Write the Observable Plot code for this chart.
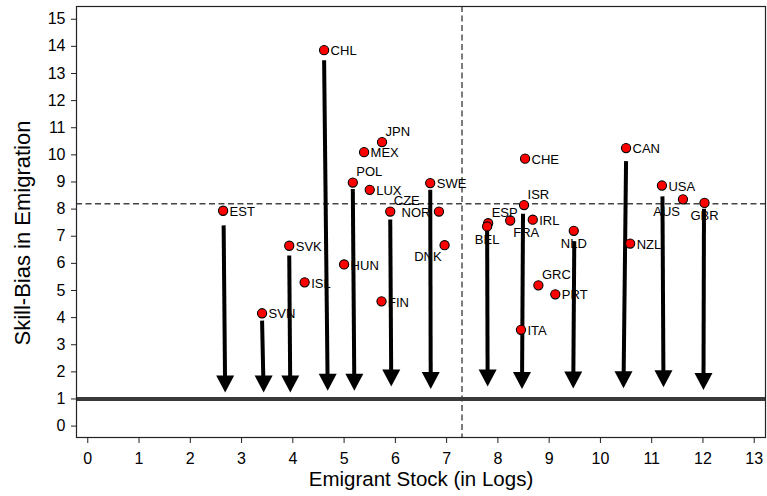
<!DOCTYPE html>
<html><head><meta charset="utf-8">
<script src="https://cdn.jsdelivr.net/npm/d3@7"></script>
<script src="https://cdn.jsdelivr.net/npm/@observablehq/plot@0.6"></script>
<style>body{margin:0;background:#fff} #chart svg{display:block}</style>
</head><body><div id="chart"></div>
<script>
// ---- data ----
const countries = ["CHL","JPN","MEX","POL","LUX","SWE","EST","CZE","NOR","SVK","SVN","ISL","HUN","FIN","DNK","CHE","CAN","ISR","USA","AUS","GBR","FRA","IRL","ESP","BEL","NLD","NZL","GRC","PRT","ITA"];
const emigrantStock = [4.61,5.74,5.39,5.17,5.50,6.68,2.64,5.90,6.85,3.93,3.40,4.23,5.00,5.73,6.96,8.53,10.50,8.51,11.20,11.61,12.03,8.24,8.68,7.81,7.79,9.48,10.58,8.79,9.12,8.45];
const skillBias = [13.86,10.47,10.10,8.98,8.71,8.96,7.94,7.91,7.91,6.65,4.16,5.30,5.96,4.60,6.67,9.86,10.25,8.15,8.87,8.36,8.23,7.58,7.61,7.48,7.36,7.20,6.73,5.19,4.86,3.55];

const arrowCountries = ["EST","SVN","SVK","CHL","POL","CZE","SWE","BEL","ISR","NLD","CAN","USA","GBR"];
const arrowFromX = [2.65,3.40,3.93,4.61,5.17,5.90,6.68,7.79,8.49,9.49,10.50,11.21,12.02];
const arrowFromY = [7.40,3.89,6.29,13.49,8.74,7.62,8.71,7.21,7.83,6.82,9.77,8.47,8.01];
const arrowToX = [2.68,3.43,3.95,4.68,5.20,5.92,6.69,7.80,8.47,9.47,10.45,11.23,12.01];
const arrowToY = [1.24,1.24,1.24,1.30,1.30,1.46,1.37,1.46,1.37,1.39,1.40,1.43,1.33];

const xTicks = [0,1,2,3,4,5,6,7,8,9,10,11,12,13];
const yTicks = [0,1,2,3,4,5,6,7,8,9,10,11,12,13,14,15];
const refStock = [7.30];
const refBias = [8.20];
const parityLine = [1];
const xTitle = "Emigrant Stock (in Logs)";
const yTitle = "Skill-Bias in Emigration";

// ---- tables built from the arrays ----
const points = countries.map((c, i) => ({country: c, x: emigrantStock[i], y: skillBias[i]}));
const arrows = arrowCountries.map((c, i) => ({country: c, x1: arrowFromX[i], y1: arrowFromY[i], x2: arrowToX[i], y2: arrowToY[i]}));

// label placement (clock positions, as in the original)
const clock = {JPN: 1, POL: 1, CZE: 1, ISR: 1, ESP: 1, GRC: 1, NOR: 9, DNK: 7, AUS: 7, GBR: 6, BEL: 6, NLD: 6, FRA: 5};
const pos = d => clock[d.country] ?? 3;
const labelStyles = {
  3: {textAnchor: "start", dx: 6.5, dy: 1},
  1: {textAnchor: "start", dx: 3.5, dy: -10.5},
  6: {textAnchor: "middle", dx: 0, dy: 13},
  7: {textAnchor: "end", dx: -3, dy: 12},
  5: {textAnchor: "start", dx: 3, dy: 12},
  9: {textAnchor: "end", dx: -8.5, dy: 1}
};

const arrowHead = {
  draw(context) {
    context.moveTo(0, 0);
    context.lineTo(-9, -17);
    context.lineTo(9, -17);
    context.closePath();
  }
};

const font = "'Liberation Sans', Arial, Helvetica, sans-serif";

const chart = Plot.plot({
  width: 767,
  height: 496,
  marginLeft: 76,
  marginRight: 2,
  marginTop: 6,
  marginBottom: 59,
  style: {fontFamily: font, background: "#fff", color: "#000"},
  x: {domain: [-0.22, 13.22]},
  y: {domain: [-0.42, 15.47]},
  marks: [
    Plot.ruleX(refStock, {x: d => d, stroke: "#444", strokeWidth: 1.4, strokeDasharray: "6,3.5"}),
    Plot.ruleY(refBias, {y: d => d, stroke: "#444", strokeWidth: 1.4, strokeDasharray: "6,3.5"}),
    Plot.ruleY(parityLine, {y: d => d, stroke: "#3a3a3a", strokeWidth: 4}),
    Plot.frame({stroke: "#222", strokeWidth: 1.2}),
    Plot.axisX({ticks: xTicks, tickSize: 6, tickPadding: 9, fontSize: 16, label: null, stroke: "#222"}),
    Plot.axisY({ticks: yTicks, tickSize: 5, tickPadding: 6, fontSize: 16, label: null, stroke: "#222"}),
    Plot.text([xTitle], {frameAnchor: "bottom", dy: 48, fontSize: 20.5, text: d => d}),
    Plot.text([yTitle], {frameAnchor: "left", textAnchor: "middle", dx: -54, dy: 11, rotate: -90, fontSize: 22, text: d => d}),
    Plot.arrow(arrows, {x1: "x1", y1: "y1", x2: "x2", y2: "y2", stroke: "#000", strokeWidth: 4, headLength: 0, insetEnd: 15, strokeLinecap: "butt"}),
    Plot.dot(arrows, {x: "x2", y: "y2", symbol: arrowHead, fill: "#000", stroke: "none"}),
    Plot.dot(points, {x: "x", y: "y", r: 4.6, fill: "#ff0000", stroke: "#000", strokeWidth: 1.1}),
    ...Object.entries(labelStyles).map(([k, s]) =>
      Plot.text(points.filter(d => String(pos(d)) === k), {x: "x", y: "y", text: "country", fontSize: 13, fill: "#000", ...s})
    )
  ]
});
document.getElementById("chart").appendChild(chart);
</script>
</body></html>
